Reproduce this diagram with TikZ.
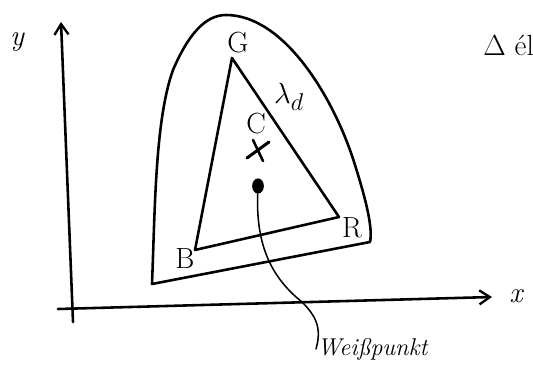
\documentclass[tikz,border=0pt]{standalone}
\usepackage{amsmath, amssymb}
\usepackage{tikz}
\usetikzlibrary{arrows.meta, positioning, calc, shapes.geometric}

\begin{document}
\begin{tikzpicture}[
		x=0.03cm, y=-0.03cm,
		pen/.style={line width=2.2pt, line cap=round, line join=round},
		axis/.style={pen, -{Straight Barb[length=9pt, width=12pt, line width=2pt]}},
		lbl/.style={font=\Huge, inner sep=1pt}
	]
		\useasboundingbox (0,0) rectangle (533,371);
		% axes
		\coordinate (o1) at (73,322);
		\coordinate (ytip) at (61,22);
		\coordinate (o2) at (58,309);
		\coordinate (xtip) at (492,297);
		\draw[axis] (o1) -- (ytip);
		\draw[axis] (o2) -- (xtip);
		\node[lbl, font=\Huge\itshape] (ylab) at (17,42) {y};
		\node[lbl, font=\Huge\itshape] (xlab) at (516,296) {x};
		% gamut outline
		\draw[pen] (152,284) .. controls (155,210) and (155,120) .. (173,70)
			.. controls (188,35) and (205,15) .. (226,15)
			.. controls (285,15) and (335,100) .. (355,165)
			.. controls (366,200) and (373,228) .. (370,242) -- cycle;
		% triangle
		\coordinate (G) at (232,58);
		\coordinate (R) at (339,217);
		\coordinate (B) at (195,250);
		\draw[pen] (G) -- (R) -- (B) -- cycle;
		\node[lbl] (Glab) at (238,43) {G};
		\node[lbl] (Rlab) at (352,228) {R};
		\node[lbl] (Blab) at (185,259) {B};
		\node[lbl] (ld) at (289,97) {$\lambda_d$};
		% white point
		\node[lbl, inner sep=0pt] (Clab) at (256,124) {C};
		\coordinate (cx) at (258,150);
		\draw[pen, line width=2.6pt] ($(cx)+(-11,8)$) -- ($(cx)+(11,-8)$);
		\draw[pen] ($(cx)+(-5,-10)$) -- ($(cx)+(5,11)$);
		\node[ellipse, fill=black, minimum width=10pt, minimum height=13pt, inner sep=0pt] (wp) at (258,186) {};
		\node[lbl, anchor=west, font=\huge\itshape] (wplab) at (316,349) {Weißpunkt};
		\draw[pen, line width=1.3pt] (wp) .. controls (256,240) and (268,275) .. (302,302)
			.. controls (316,316) and (322,328) .. (wplab.west);
		% cut-off note
		\node[lbl, anchor=west] (delta) at (482,45) {$\Delta$ él};
	\end{tikzpicture}
\end{document}
